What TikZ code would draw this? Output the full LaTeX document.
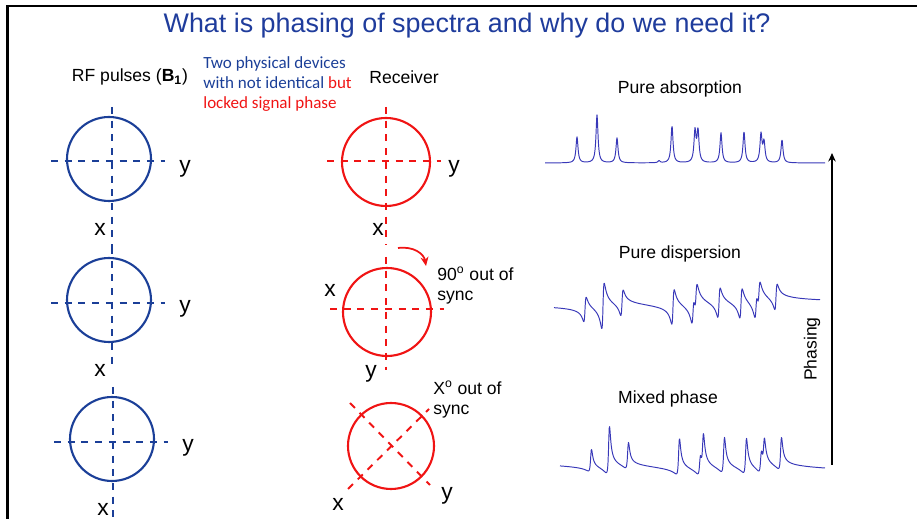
\documentclass[tikz,border=0pt]{standalone}
\usepackage{fontspec}
\setmainfont{Liberation Sans}
\newfontfamily\calibri{Carlito}
\usetikzlibrary{arrows.meta}
\definecolor{titleblue}{HTML}{1F3C9C}
\definecolor{ringblue}{HTML}{1B3F98}
\definecolor{ringred}{HTML}{F01414}
\definecolor{specblue}{HTML}{3838B8}
\tikzset{
  >={Stealth[length=1.7mm,width=1.5mm]},
  ringb/.style={draw=ringblue, line width=1.2pt},
  ringr/.style={draw=ringred, line width=1.2pt},
  axb/.style={ringblue, line width=1.1pt, dash pattern=on 4pt off 3.8pt},
  axr/.style={ringred, line width=1.1pt, dash pattern=on 4pt off 3.8pt},
  axlbl/.style={font=\fontsize{13}{15}\selectfont, inner sep=0pt},
  figsmall/.style={font=\fontsize{10}{11.4}\selectfont, inner sep=0pt},
  spec/.style={specblue, line width=0.55pt, line join=round},
}
\begin{document}
\begin{tikzpicture}[x=0.02cm, y=-0.02cm,
  declare function={
    ab(\p,\c,\h)=\h*0.0144/(0.0144+((\p-\c)/10)*((\p-\c)/10));
    ds(\p,\c,\h)=\h*0.12*((\p-\c)/10)/(0.0144+((\p-\c)/10)*((\p-\c)/10));
    mx(\p,\c,\h)=0.7071*(ab(\p,\c,\h)+ds(\p,\c,\h));
  }]
\useasboundingbox (0,0) rectangle (917,519);

% frame and title
\draw[line width=1.3pt] (7.5,519) -- (7.5,6) -- (917,6);
\node[font=\fontsize{15.3}{18}\selectfont, text=titleblue, anchor=base, inner sep=0pt]
  (title) at (467,33) {What is phasing of spectra and why do we need it?};

% ===================== left: RF pulses =====================
\node[figsmall] (rfhead) at (130,77) {RF pulses (\textbf{B\textsubscript{1}})};
\node[anchor=north west, align=left, inner sep=0pt, text=ringblue,
      font=\calibri\fontsize{9.7}{11.4}\selectfont] (devnote) at (203,56)
  {Two physical devices\\with not identical \textcolor{ringred}{but}\\\textcolor{ringred}{locked signal phase}};

\begin{scope}[shift={(109,159)}]
  \draw[axb] (-58,2) -- (56,2);
  \draw[axb] (3,-52) -- (3,88);
  \draw[ringb] (0,0) circle (42);
\end{scope}
\node[axlbl] (by1) at (185,169) {y};
\node[axlbl] (bx1) at (100,229) {x};

\begin{scope}[shift={(109,300)}]
  \draw[axb] (-58,3) -- (56,3);
  \draw[axb] (3,-53) -- (3,66);
  \draw[ringb] (0,0) circle (42);
\end{scope}
\node[axlbl] (by2) at (185,309) {y};
\node[axlbl] (bx2) at (100,370) {x};

\begin{scope}[shift={(112,439)}]
  \draw[axb] (-58,3) -- (56,3);
  \draw[axb] (1,-52) -- (1,80);
  \draw[ringb] (0,0) circle (42);
\end{scope}
\node[axlbl] (by3) at (188,448) {y};
\node[axlbl] (bx3) at (103,509) {x};

% ===================== middle: receiver =====================
\node[figsmall] (rxhead) at (404,77) {Receiver};

\begin{scope}[shift={(386,162)}]
  \draw[axr] (-59,-1) -- (55,-1);
  \draw[axr] (0,-55) -- (0,83);
  \draw[ringr] (0,0) circle (44);
\end{scope}
\node[axlbl] (ry1) at (454,169) {y};
\node[axlbl] (rx1) at (378,229) {x};

\begin{scope}[shift={(387,312)}]
  \draw[axr] (-57,-3) -- (57,-3);
  \draw[axr] (-1,-55) -- (-1,58);
  \draw[ringr] (0,0) circle (44);
\end{scope}
\node[axlbl] (rx2) at (330,290) {x};
\node[axlbl] (ry2) at (371,374) {y};
\coordinate (rotA) at (398,248);
\coordinate (rotB) at (426,266);
\draw[ringred, line width=1pt, -{Stealth[length=1.8mm,width=1.6mm]}]
  (rotA) .. controls (414,246) and (424,254) .. (rotB);
\node[figsmall, anchor=north west, align=left] (sync90) at (437,267) {90\textsuperscript{o} out of\\sync};

\begin{scope}[shift={(391,446)}]
  \draw[axr] (-41,-43) -- (39,39);
  \draw[axr] (-43,43) -- (38,-37);
  \draw[ringr] (0,0) circle (43);
\end{scope}
\node[axlbl] (rx3) at (338,504) {x};
\node[axlbl] (ry3) at (447,496) {y};
\node[figsmall, anchor=north west, align=left] (syncx) at (433,381) {X\textsuperscript{o} out of\\sync};

% ===================== right: spectra =====================
\node[figsmall] (absl) at (680,89) {Pure absorption};
\draw[spec] plot[domain=545:825, samples=701] (\x, {163 - ab(\x,577,26) - ab(\x,597,48)
  - ab(\x,617,25) - ab(\x,659,2) - ab(\x,672,37) - ab(\x,695,31) - ab(\x,698,31)
  - ab(\x,721,30) - ab(\x,744,31) - ab(\x,761,28) - ab(\x,764,20) - ab(\x,782,23)});

\node[figsmall] (dspl) at (680,254) {Pure dispersion};
\draw[spec] plot[domain=554:820, samples=667] (\x, {303.5 - ds(\x,585,25) - ds(\x,603,46)
  - ds(\x,622,26) - ds(\x,673,35) - ds(\x,693,26) - ds(\x,696,26) - ds(\x,719,30)
  - ds(\x,741,30) - ds(\x,756,24) - ds(\x,759,24) - ds(\x,776,26)});

\node[figsmall] (mixl) at (668,399) {Mixed phase};
\draw[spec] plot[domain=560:825, samples=663] (\x, {463 + 0.03*(\x-560) - mx(\x,591,22)
  - mx(\x,609,47) - mx(\x,628,26) - mx(\x,679,36) - mx(\x,700,20) - mx(\x,703,34)
  - mx(\x,724,35) - mx(\x,746,35) - mx(\x,761,22) - mx(\x,764,26) - mx(\x,781,32)});

\coordinate (phbot) at (832,465);
\coordinate (phtop) at (832,153);
\draw[->, line width=1.1pt] (phbot) -- (phtop);
\node[figsmall, rotate=90] (phl) at (812,349) {Phasing};

\end{tikzpicture}
\end{document}
